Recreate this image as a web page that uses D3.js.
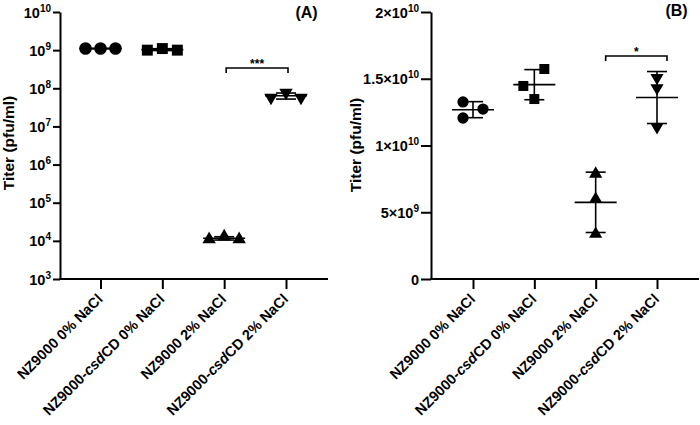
<!DOCTYPE html>
<html><head><meta charset="utf-8">
<script src="https://cdn.jsdelivr.net/npm/d3@7"></script>
<style>
body{margin:0;background:#fff}
text{font-family:"Liberation Sans",Arial,sans-serif;font-weight:bold;fill:#000}
</style>
</head><body>
<svg id="c" width="700" height="425"></svg>
<script>
// ---------- data ----------
const categories = ["NZ9000 0% NaCl", "NZ9000-csdCD 0% NaCl", "NZ9000 2% NaCl", "NZ9000-csdCD 2% NaCl"];
// label pieces: [text, italic]
const labelParts = [
  [["NZ9000 0% NaCl", false]],
  [["NZ9000-", false], ["csd", true], ["CD 0% NaCl", false]],
  [["NZ9000 2% NaCl", false]],
  [["NZ9000-", false], ["csd", true], ["CD 2% NaCl", false]]
];
// Panel A (log scale), pfu/ml
const aNZ0   = [1.1e9, 1.1e9, 1.1e9];
const aCsd0  = [1.0e9, 1.1e9, 1.0e9];
const aNZ2   = [1.1e4, 1.3e4, 1.1e4];
const aCsd2  = [5.7e7, 7.7e7, 5.7e7];
// Panel B (linear scale), pfu/ml
const bNZ0   = [1.326e10, 1.273e10, 1.206e10];
const bCsd0  = [1.446e10, 1.573e10, 1.348e10];
const bNZ2   = [7.87e9, 5.99e9, 3.37e9];
const bCsd2  = [1.508e10, 1.431e10, 1.139e10];
// ticks
const ticksA = [1e3, 1e4, 1e5, 1e6, 1e7, 1e8, 1e9, 1e10];
const tickLabelsA = [["10","3"],["10","4"],["10","5"],["10","6"],["10","7"],["10","8"],["10","9"],["10","10"]];
const ticksB = [0, 5e9, 1e10, 1.5e10, 2e10];
const tickLabelsB = [["0",""],["5×10","9"],["1×10","10"],["1.5×10","10"],["2×10","10"]];
// significance
const sigA = {from: 2, to: 3, value: 3.4e8, label: "***"};
const sigB = {from: 2, to: 3, value: 1.67e10, label: "*"};

// ---------- layout ----------
const jitterA = [[-15,0,15],[-15,0,15],[-15,0,15],[-15,0,15]];
const jitterB = [[-10,10,-10],[-11,10,0],[0,0,0],[0,0,0]];
const shapes = [d3.symbolCircle, d3.symbolSquare, d3.symbolTriangle, d3.symbolTriangle];
const rotations = [0,0,0,180];

const svg = d3.select("#c");

function panel(opts){
  const g = svg.append("g");
  const x = d3.scalePoint().domain(categories).range(opts.xr);
  const y = opts.y;
  // axes
  const yAxis = d3.axisLeft(y).tickValues(opts.ticks).tickFormat("").tickSize(opts.tickLen).tickSizeOuter(0);
  const ya = g.append("g").attr("transform",`translate(${opts.x0},0)`).call(yAxis);
  ya.select(".domain").attr("stroke","#000").attr("stroke-width",2);
  ya.selectAll(".tick line").attr("stroke","#000").attr("stroke-width",2);
  ya.selectAll(".tick").each(function(d,i){
    const t = d3.select(this).append("text").attr("x",-opts.tickLen-2).attr("y",5).attr("text-anchor","end")
      .style("font-size","14.5px");
    const lab = opts.tickLabels[i];
    if(lab[1]){
      t.append("tspan").text(lab[0]);
      t.append("tspan").attr("dy",-6).style("font-size","10px").text(lab[1]);
    } else t.text(lab[0]);
  });
  const xAxis = d3.axisBottom(x).tickFormat("").tickSize(10).tickSizeOuter(0);
  const xa = g.append("g").attr("transform",`translate(0,${opts.yBase})`).call(xAxis);
  xa.select(".domain").attr("d",`M${opts.x0 - 1},0H${opts.xEnd}`).attr("stroke","#000").attr("stroke-width",2);
  xa.selectAll(".tick line").attr("stroke","#000").attr("stroke-width",2);
  // category labels
  categories.forEach((c,i)=>{
    const t = g.append("text")
      .attr("transform",`translate(${x(c)+3},${opts.yBase+21}) rotate(-45)`)
      .attr("text-anchor","end").style("font-size","14.5px");
    labelParts[i].forEach(p=>{
      t.append("tspan").style("font-style",p[1]?"italic":"normal").text(p[0]);
    });
  });
  // y label
  g.append("text").attr("transform",`translate(${opts.ylabX},${opts.ylabY}) rotate(-90)`)
    .attr("text-anchor","middle").style("font-size","15.5px").text("Titer (pfu/ml)");
  // panel letter
  g.append("text").attr("x",opts.letterX).attr("y",opts.letterY).attr("text-anchor","middle")
    .style("font-size","16px").text(opts.letter);
  // data
  opts.series.forEach((vals,i)=>{
    const cx = x(categories[i]);
    const m = d3.mean(vals), sd = d3.deviation(vals);
    const ln = (x1,y1,x2,y2)=>g.append("line").attr("x1",x1).attr("x2",x2).attr("y1",y1).attr("y2",y2)
      .attr("stroke","#000").attr("stroke-width",1.6);
    ln(cx-21,y(m),cx+21,y(m));
    ln(cx,y(m-sd),cx,y(m+sd));
    ln(cx-10,y(m-sd),cx+10,y(m-sd));
    ln(cx-10,y(m+sd),cx+10,y(m+sd));
    vals.forEach((v,j)=>{
      g.append("path").attr("d",d3.symbol().type(shapes[i]).size(opts.sizes[i])())
        .attr("transform",`translate(${cx+opts.jitter[i][j]},${y(v)}) rotate(${rotations[i]})`)
        .attr("fill","#000");
    });
  });
  // significance bracket
  const s = opts.sig;
  const bx1 = x(categories[s.from]) + opts.sigOff, bx2 = x(categories[s.to]) + opts.sigOff, by = y(s.value);
  g.append("path").attr("d",`M${bx1},${by+5}V${by}H${bx2}V${by+5}`).attr("fill","none")
    .attr("stroke","#000").attr("stroke-width",1.6);
  g.append("text").attr("x",(bx1+bx2)/2).attr("y",by-0.5).attr("text-anchor","middle")
    .style("font-size","12px").text(s.label);
}

panel({
  x0:60, xEnd:328, xr:[100.5,286], yBase:279, tickLen:7,
  y: d3.scaleLog().domain([1e3,1e10]).range([279,12]),
  ticks: ticksA, tickLabels: tickLabelsA,
  series:[aNZ0,aCsd0,aNZ2,aCsd2], jitter: jitterA, sizes:[125,120,78,78],
  sig: sigA, sigOff: 2,
  ylabX: 14, ylabY: 143, letter:"(A)", letterX:306.5, letterY:18
});
panel({
  x0:431, xEnd:699, xr:[473,657], yBase:279, tickLen:10,
  y: d3.scaleLinear().domain([0,2e10]).range([279,12]),
  ticks: ticksB, tickLabels: tickLabelsB,
  series:[bNZ0,bCsd0,bNZ2,bCsd2], jitter: jitterB, sizes:[100,100,75,75],
  sig: sigB, sigOff: 10,
  ylabX: 361, ylabY: 145, letter:"(B)", letterX:676.5, letterY:16
});
</script>
</body></html>
